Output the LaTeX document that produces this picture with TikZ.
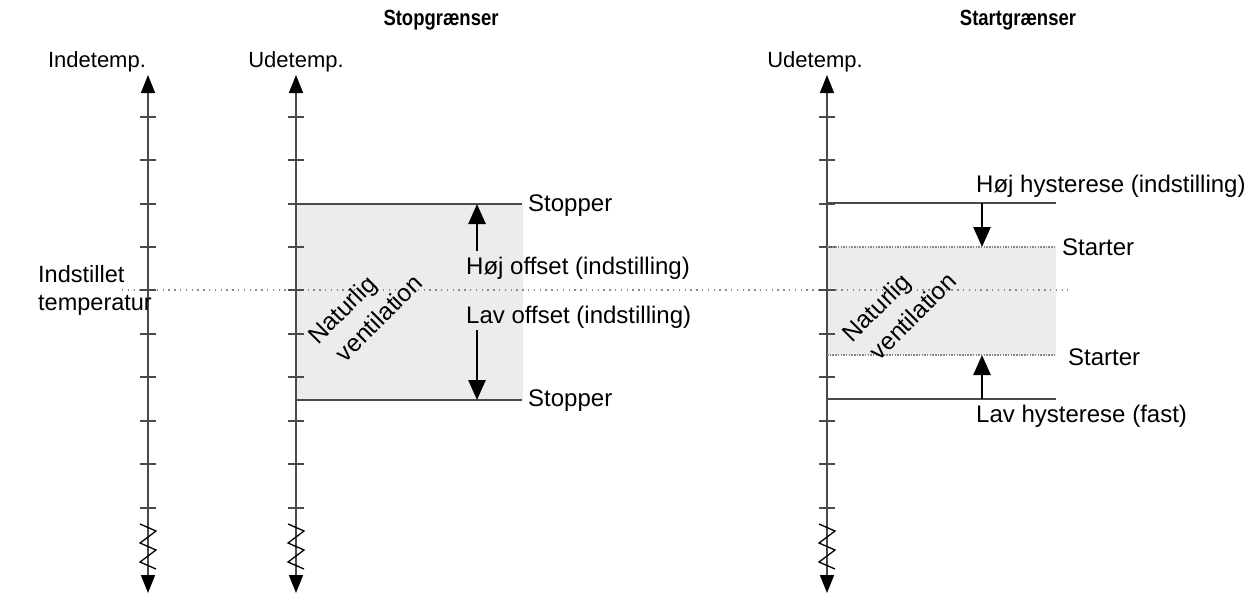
\documentclass[tikz,border=0pt]{standalone}
\usepackage{fontspec}
\setmainfont{Liberation Sans}
\usetikzlibrary{arrows.meta}
\definecolor{axisgray}{HTML}{4A4A4A}
\definecolor{zonegray}{HTML}{ECECEC}
\definecolor{dotgray}{HTML}{8A8A8A}
\begin{document}
\begin{tikzpicture}[x=1pt,y=-1pt,
  lbl/.style={font=\fontsize{22}{26}\selectfont, inner sep=0pt},
  mlbl/.style={font=\fontsize{24}{28}\selectfont, inner sep=0pt, anchor=west},
  ttl/.style={font=\fontsize{22}{26}\selectfont\bfseries, inner sep=0pt},
  axisline/.style={draw=axisgray, line width=1.6pt, {Triangle[width=14pt,length=18pt,color=black]}-{Triangle[width=14pt,length=18pt,color=black]}},
  tickmark/.style={draw=axisgray, line width=1.4pt},
  limitline/.style={draw=axisgray, line width=1.6pt},
  startline/.style={draw=dotgray, line width=1.6pt, dash pattern=on 1.5pt off 1.2pt},
  setline/.style={draw=dotgray, line width=1.3pt, dash pattern=on 1.3pt off 4.5pt},
  bigarrow/.style={draw=black, line width=2.6pt, -{Triangle[width=17pt,length=20pt]}},
  zig/.style={draw=black, line width=1.3pt},
  diag/.style={inner sep=0pt, rotate=45, align=left, font=\fontsize{24.5}{32}\selectfont}
]
\useasboundingbox (0,0) rectangle (1249,594);

% shaded zones
\fill[zonegray] (296,204) rectangle (523,400);
\fill[zonegray] (827,247) rectangle (1056,355);

% set temperature dotted line
\coordinate (setL) at (122,290);
\coordinate (setR) at (1068,290);
\draw[setline] (setL) -- (setR);

% axes with ticks and breaks
\foreach \ax/\nm in {148/ind,296/ude,827/ude2}{
  \coordinate (\nm top) at (\ax,75);
  \coordinate (\nm bot) at (\ax,593);
  \draw[axisline] (\nm bot) -- (\nm top);
  \foreach \ty in {117,160,204,247,290,334,377,421,464,508}{
    \draw[tickmark] (\ax-8,\ty) -- (\ax+8,\ty);
  }
  \draw[zig] (\ax-8,524) -- (\ax+8,531) -- (\ax-8,543) -- (\ax+8,550) -- (\ax-8,562) -- (\ax+8,569);
}

% titles and axis labels
\node[ttl] (stoptitle) at (441,20) {\scalebox{0.84}[1]{Stopgrænser}};
\node[ttl] (starttitle) at (1018,20) {\scalebox{0.84}[1]{Startgrænser}};
\node[lbl] (indetemp) at (97,62) {Indetemp.};
\node[lbl] (udetemp) at (296,62) {Udetemp.};
\node[lbl] (udetemp2) at (815,62) {Udetemp.};
\node[lbl, anchor=west, align=left, font=\fontsize{23.5}{28}\selectfont] (indstillet) at (38,290) {Indstillet\\temperatur};

% ---- Stop limits panel
\coordinate (stopTopL) at (296,204);
\coordinate (stopTopR) at (522,204);
\coordinate (stopBotL) at (296,400);
\coordinate (stopBotR) at (522,400);
\draw[limitline] (stopTopL) -- (stopTopR);
\draw[limitline] (stopBotL) -- (stopBotR);
\node[mlbl] (stopper1) at (528,206) {Stopper};
\node[mlbl] (stopper2) at (528,401) {Stopper};
\node[mlbl] (hojoff) at (466,268) {Høj offset (indstilling)};
\node[mlbl] (lavoff) at (466,317) {Lav offset (indstilling)};
\coordinate (upS) at (477,251);
\coordinate (upE) at (477,204);
\coordinate (dnS) at (477,330);
\coordinate (dnE) at (477,400);
\draw[bigarrow] (upS) -- (upE);
\draw[bigarrow] (dnS) -- (dnE);
\node[diag] (nat1) at (365,309) {Naturlig\\\hspace*{7pt}ventilation};

% ---- Start limits panel
\coordinate (hTopL) at (827,203);
\coordinate (hTopR) at (1056,203);
\coordinate (sTopL) at (827,247);
\coordinate (sTopR) at (1056,247);
\coordinate (sBotL) at (827,355);
\coordinate (sBotR) at (1056,355);
\coordinate (lBotL) at (827,399);
\coordinate (lBotR) at (1056,399);
\draw[limitline] (hTopL) -- (hTopR);
\draw[startline] (sTopL) -- (sTopR);
\draw[startline] (sBotL) -- (sBotR);
\draw[limitline] (lBotL) -- (lBotR);
\node[mlbl] (hojhys) at (976,186) {Høj hysterese (indstilling)};
\node[mlbl] (starter1) at (1062,247) {Starter};
\node[mlbl] (starter2) at (1068,357) {Starter};
\node[mlbl] (lavhys) at (976,416) {Lav hysterese (fast)};
\coordinate (a1S) at (982,203);
\coordinate (a1E) at (982,247);
\coordinate (a2S) at (982,399);
\coordinate (a2E) at (982,355);
\draw[bigarrow] (a1S) -- (a1E);
\draw[bigarrow] (a2S) -- (a2E);
\node[diag] (nat2) at (899,307) {Naturlig\\\hspace*{7pt}ventilation};
\end{tikzpicture}
\end{document}
